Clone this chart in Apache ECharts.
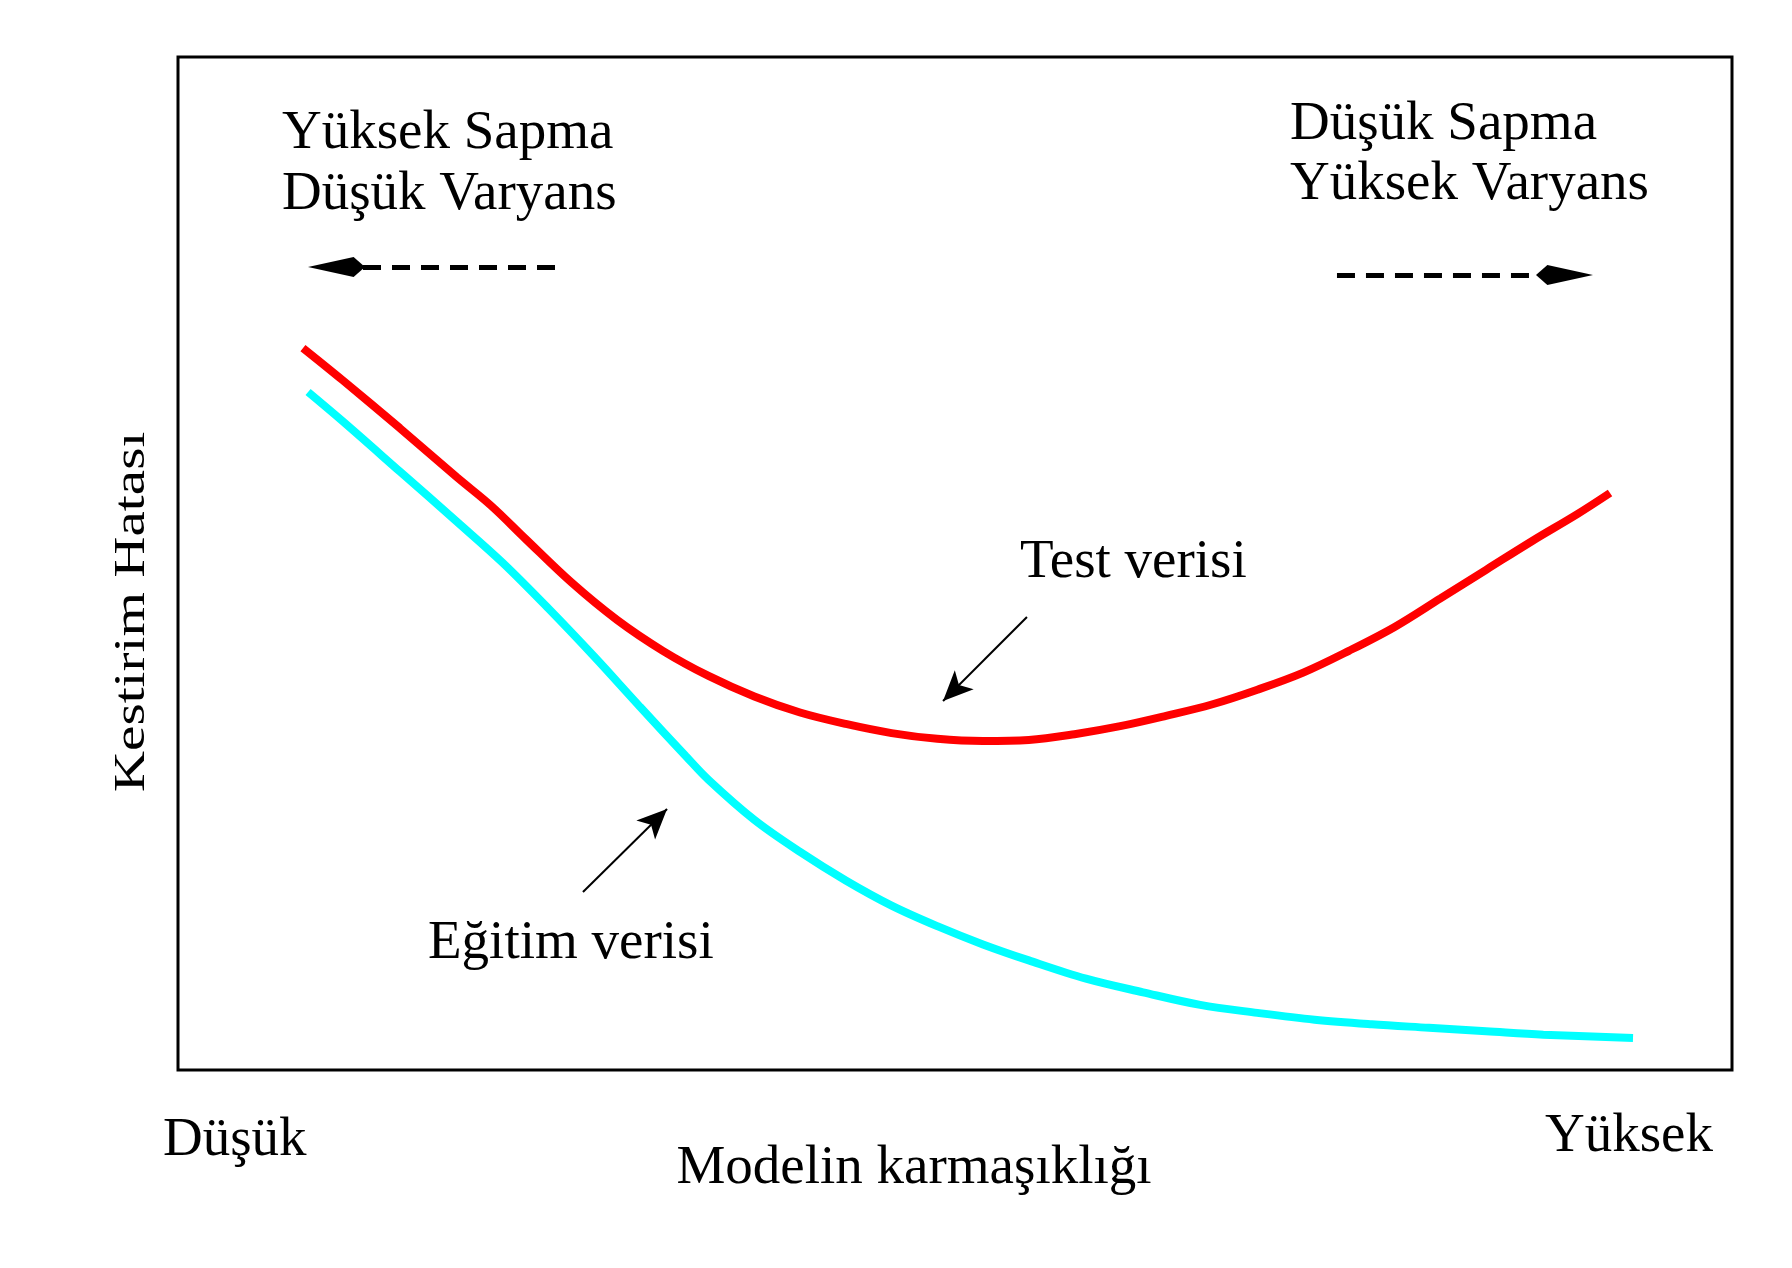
<!DOCTYPE html>
<html>
<head>
<meta charset="utf-8">
<script src="https://cdn.jsdelivr.net/npm/echarts@6/dist/echarts.min.js"></script>
<style>
html,body{margin:0;padding:0;background:#fff;}
#chart{width:1792px;height:1268px;}
</style>
</head>
<body>
<div id="chart"></div>
<script>
// Model complexity (0 = low, 100 = high) and prediction error (0..100)
const testX   = [8.04, 10.60, 14.28, 17.95, 20.16, 22.37, 25.31, 28.26, 31.20, 34.14, 37.09, 40.03, 42.97, 45.92, 48.86, 51.80, 54.75, 57.69, 60.63, 63.58, 66.52, 69.46, 72.41, 75.35, 78.29, 81.24, 84.18, 87.12, 90.07, 92.15];
const testErr = [71.27, 68.09, 63.36, 58.51, 55.69, 52.42, 48.14, 44.42, 41.38, 38.90, 36.87, 35.29, 34.16, 33.26, 32.69, 32.47, 32.58, 33.15, 33.94, 34.96, 36.08, 37.54, 39.23, 41.38, 43.74, 46.56, 49.38, 52.20, 54.90, 56.96];
const trainX   = [8.37, 10.60, 14.28, 17.95, 20.90, 23.84, 26.78, 29.73, 32.67, 34.14, 37.09, 40.03, 42.97, 45.92, 48.86, 51.80, 54.75, 58.43, 62.10, 65.78, 69.46, 73.14, 76.82, 80.50, 84.18, 87.86, 93.63];
const trainErr = [66.93, 64.04, 59.08, 54.12, 50.06, 45.55, 40.81, 35.85, 31.00, 28.64, 24.69, 21.53, 18.71, 16.23, 14.20, 12.40, 10.82, 9.02, 7.67, 6.43, 5.64, 4.96, 4.51, 4.17, 3.83, 3.49, 3.16];

// Annotation arrows in data units: [fromX, fromY, toX, toY]
const dashedArrows = [
  [24.26, 79.27, 10.20, 79.27],
  [74.58, 78.48, 89.22, 78.48]
];
const pointerArrows = [
  [54.63, 44.72, 49.23, 36.43],
  [26.06, 17.57, 31.47, 25.77]
];

const seriesNames = ['Test verisi', 'Eğitim verisi'];
const cornerTexts = [['Yüksek Sapma', 'Düşük Varyans'], ['Düşük Sapma', 'Yüksek Varyans']];
const xTickLabels = ['Düşük', 'Yüksek'];
const xAxisTitle = 'Modelin karmaşıklığı';
const yAxisTitle = 'Kestirim Hatası';

const FONT = '"Liberation Serif", "Times New Roman", "DejaVu Serif", serif';
const FS = 55;
const MID = 13;

function zip(xs, ys) { return xs.map((x, i) => [x, ys[i]]); }

function txt(text, x, baseline, align) {
  return {
    type: 'text', x: x, y: baseline - MID, silent: true,
    style: { text: text, fontFamily: FONT, fontSize: FS, fill: '#000', align: align || 'left', verticalAlign: 'middle' }
  };
}

const chart = echarts.init(document.getElementById('chart'), null, { renderer: 'canvas' });

const option = {
  animation: false,
  backgroundColor: '#fff',
  grid: { left: 178, top: 57, width: 1554, height: 1013, show: true, borderColor: '#000', borderWidth: 3, backgroundColor: 'transparent' },
  xAxis: { type: 'value', min: 0, max: 100, axisLine: { show: false }, axisTick: { show: false }, axisLabel: { show: false }, splitLine: { show: false } },
  yAxis: { type: 'value', min: 0, max: 100, axisLine: { show: false }, axisTick: { show: false }, axisLabel: { show: false }, splitLine: { show: false } },
  series: [
    {
      name: seriesNames[0], type: 'line', smooth: 0.35, showSymbol: false, silent: true,
      data: zip(testX, testErr),
      lineStyle: { color: '#ff0000', width: 8, cap: 'butt' }
    },
    {
      name: seriesNames[1], type: 'line', smooth: 0.35, showSymbol: false, silent: true,
      data: zip(trainX, trainErr),
      lineStyle: { color: '#00ffff', width: 8, cap: 'butt' }
    },
    {
      name: 'dashed', type: 'line', data: [], silent: true,
      markLine: {
        silent: true, animation: false,
        symbol: ['none', 'path://M0,0 L2,8 L0,10 L-2,8 Z'],
        symbolSize: [20, 57],
        label: { show: false },
        lineStyle: { color: '#000', width: 5, type: [18, 11], cap: 'butt' },
        emphasis: { disabled: true },
        data: dashedArrows.map(a => [{ coord: [a[0], a[1]] }, { coord: [a[2], a[3]] }])
      }
    },
    {
      name: 'pointers', type: 'line', data: [], silent: true,
      markLine: {
        silent: true, animation: false,
        symbol: ['none', 'arrow'],
        symbolSize: [20, 30],
        label: { show: false },
        lineStyle: { color: '#000', width: 2, type: 'solid' },
        itemStyle: { color: '#000' },
        emphasis: { disabled: true },
        data: pointerArrows.map(a => [{ coord: [a[0], a[1]] }, { coord: [a[2], a[3]] }])
      }
    }
  ],
  graphic: [
    txt(cornerTexts[0][0], 282, 147),
    txt(cornerTexts[0][1], 282, 208),
    txt(cornerTexts[1][0], 1290, 138),
    txt(cornerTexts[1][1], 1290, 198),
    txt(seriesNames[0], 1020, 576),
    txt(seriesNames[1], 428, 957),
    txt(xTickLabels[0], 163, 1154),
    txt(xTickLabels[1], 1545, 1150),
    txt(xAxisTitle, 914, 1182, 'center'),
    {
      type: 'text', x: 132, y: 612, rotation: Math.PI / 2, scaleX: 1.3, scaleY: 1, silent: true,
      style: { text: yAxisTitle, fontFamily: FONT, fontSize: 44, fill: '#000', align: 'center', verticalAlign: 'middle' }
    }
  ]
};

chart.setOption(option);
</script>
</body>
</html>
